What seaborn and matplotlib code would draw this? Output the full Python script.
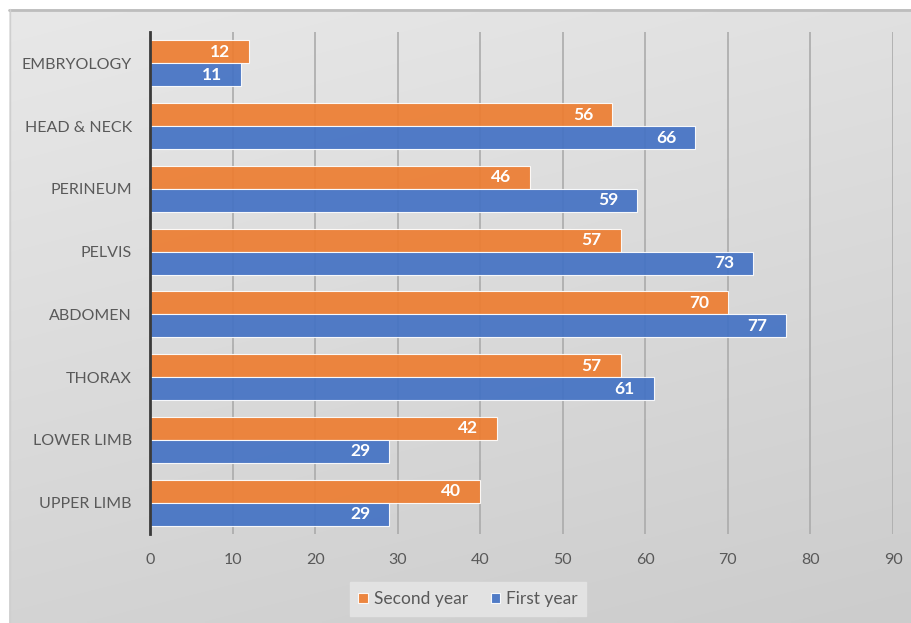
import numpy as np
import pandas as pd
import matplotlib
matplotlib.use("Agg")
import matplotlib.pyplot as plt
import seaborn as sns

categories = ["EMBRYOLOGY", "HEAD & NECK", "PERINEUM", "PELVIS",
              "ABDOMEN", "THORAX", "LOWER LIMB", "UPPER LIMB"]
second_year = [12, 56, 46, 57, 70, 57, 42, 40]
first_year = [11, 66, 59, 73, 77, 61, 29, 29]
series_names = ["Second year", "First year"]
x_ticks = [0, 10, 20, 30, 40, 50, 60, 70, 80, 90]

df = pd.DataFrame({
    "region": categories * 2,
    "score": second_year + first_year,
    "year": [series_names[0]] * len(categories) + [series_names[1]] * len(categories),
})

sns.set_theme(style="white")
plt.rcParams["font.family"] = ["Lato", "DejaVu Sans"]

W, H = 911, 623
fig = plt.figure(figsize=(W / 100, H / 100), dpi=100)
fig.patch.set_facecolor("white")

# soft grey gradient panel behind the chart
bg = fig.add_axes([9 / W, 0, (W - 9) / W, (H - 9) / H], zorder=-10)
yy, xx = np.mgrid[0:1:200j, 0:1:200j]
grad = 0.91 - 0.08 * yy - 0.03 * xx
bg.imshow(np.dstack([grad, grad, grad]), aspect="auto", extent=[0, 1, 0, 1],
          origin="upper", interpolation="bilinear")
bg.set_axis_off()
fig.add_artist(plt.Line2D([9 / W, 1], [(H - 9.5) / H] * 2, color="#bdbdbd", lw=2,
                          transform=fig.transFigure))
fig.add_artist(plt.Line2D([9.5 / W] * 2, [0, (H - 9) / H], color="#cfcfcf", lw=1,
                          transform=fig.transFigure))

ax = fig.add_axes([150 / W, 89 / H, (893 - 150) / W, (591 - 89) / H])
ax.set_facecolor("none")
palette = {"Second year": "#ED7D31", "First year": "#4472C4"}
sns.barplot(data=df, y="region", x="score", hue="year", hue_order=series_names,
            order=categories, palette=palette, orient="h", width=0.73,
            edgecolor="white", linewidth=0.8, alpha=0.92, saturation=1,
            legend=True, ax=ax, zorder=3)

ax.set_xlim(0, 90)
ax.set_xticks(x_ticks)
ax.set_xticklabels([str(t) for t in x_ticks])
ax.xaxis.grid(True, color="#ababab", lw=1.2, zorder=0)
ax.set_axisbelow(True)
for s in ["top", "right", "bottom"]:
    ax.spines[s].set_visible(False)
ax.spines["left"].set_color("#3a3a3a")
ax.spines["left"].set_linewidth(2)
ax.spines["left"].set_zorder(5)
ax.tick_params(axis="x", length=0, pad=14, labelsize=11.5, labelcolor="#595959")
ax.tick_params(axis="y", length=0, pad=13, labelsize=11.5, labelcolor="#595959")
ax.set_xlabel("")
ax.set_ylabel("")

for cont in ax.containers:
    ax.bar_label(cont, labels=[f"{v:g}" for v in cont.datavalues], padding=-28,
                 color="white", fontweight="bold", fontsize=12.5)

leg = ax.get_legend()
handles, labels = ax.get_legend_handles_labels()
leg.remove()
fig.legend(handles, labels, loc="center", bbox_to_anchor=(468 / W, 24 / H), ncol=2,
           frameon=True, facecolor="#e2e2e2", edgecolor="#e2e2e2", framealpha=1,
           fontsize=12.5, labelcolor="#595959", handlelength=0.55, handleheight=0.55,
           handletextpad=0.35, columnspacing=1.3, borderpad=0.5, fancybox=False)

fig.savefig("out.png", dpi=100)
